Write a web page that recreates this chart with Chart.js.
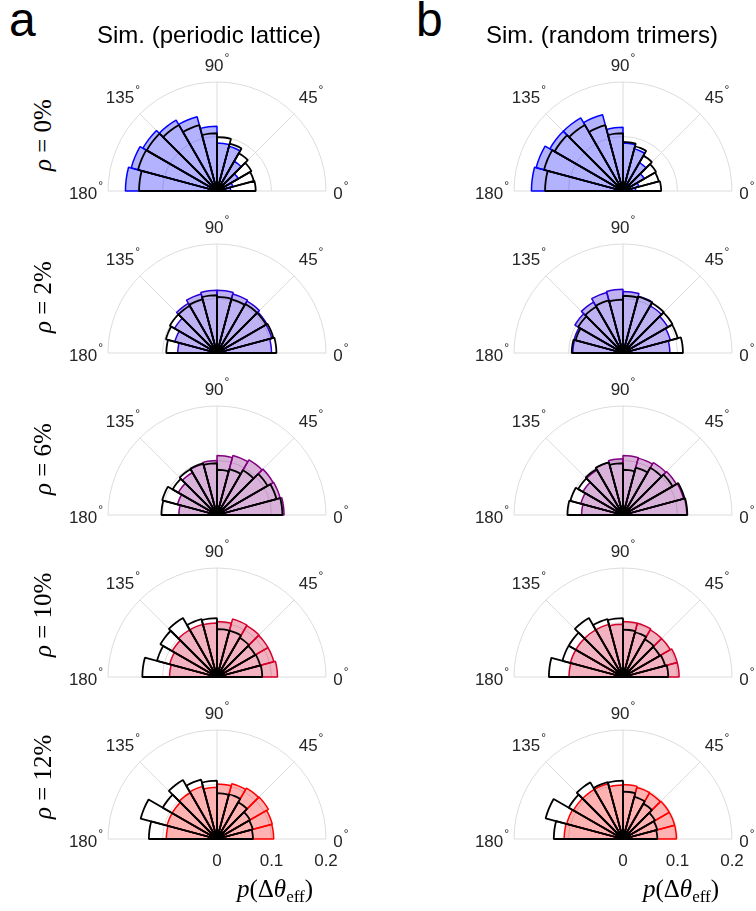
<!DOCTYPE html>
<html>
<head>
<meta charset="utf-8">
<script src="https://cdn.jsdelivr.net/npm/chart.js@4.4.1/dist/chart.umd.min.js"></script>
<style>
    body { margin: 0; background: #fff; }
    #page { position: relative; width: 756px; height: 911px; overflow: hidden; font-family: "Liberation Sans", Arial, sans-serif; color: #000; }
    #page canvas { position: absolute; }
    .txt { position: absolute; white-space: nowrap; line-height: 1; }
    .rho { position: absolute; white-space: nowrap; font-family: "Liberation Serif", serif; font-size: 25px; line-height: 26px; transform-origin: 0 0; transform: rotate(-90deg); }
    .xlab { position: absolute; white-space: nowrap; font-family: "Liberation Serif", serif; font-size: 25px; line-height: 1; transform: translateX(-50%); }
    .xlab sub { font-size: 17px; vertical-align: -5px; }
</style>
</head>
<body>
<div id="page"></div>
<script>
// 15 degree bins, 0 to 180 degrees
const thetaBins = ['0-15', '15-30', '30-45', '45-60', '60-75', '75-90',
                   '90-105', '105-120', '120-135', '135-150', '150-165', '165-180'];
const rhoLabels = ['0%', '2%', '6%', '10%', '12%'];
const radialTicks = [0, 0.1, 0.2];
const angleTicks = [0, 45, 90, 135, 180];

// a: periodic lattice, coloured histograms
const simLattice0  = [0.025, 0.030, 0.045, 0.063, 0.085, 0.088, 0.119, 0.141, 0.150, 0.157, 0.163, 0.168];
const simLattice2  = [0.100, 0.104, 0.106, 0.110, 0.112, 0.115, 0.115, 0.112, 0.105, 0.090, 0.080, 0.072];
const simLattice6  = [0.123, 0.120, 0.119, 0.117, 0.113, 0.109, 0.100, 0.097, 0.090, 0.082, 0.075, 0.070];
const simLattice10 = [0.111, 0.108, 0.108, 0.109, 0.110, 0.102, 0.099, 0.100, 0.100, 0.095, 0.090, 0.087];
const simLattice12 = [0.104, 0.105, 0.109, 0.108, 0.105, 0.101, 0.095, 0.100, 0.098, 0.095, 0.095, 0.093];
// a: black outline histograms
const refLattice0  = [0.071, 0.070, 0.073, 0.080, 0.090, 0.099, 0.106, 0.125, 0.140, 0.149, 0.150, 0.143];
const refLattice2  = [0.109, 0.107, 0.104, 0.104, 0.102, 0.103, 0.106, 0.102, 0.100, 0.100, 0.097, 0.093];
const refLattice6  = [0.120, 0.113, 0.107, 0.095, 0.087, 0.083, 0.095, 0.098, 0.097, 0.094, 0.104, 0.102];
const refLattice10 = [0.083, 0.082, 0.081, 0.083, 0.088, 0.088, 0.108, 0.110, 0.125, 0.120, 0.114, 0.137];
const refLattice12 = [0.066, 0.068, 0.070, 0.078, 0.085, 0.084, 0.107, 0.113, 0.125, 0.115, 0.145, 0.125];

// b: random trimers, coloured histograms
const simTrimers0  = [0.023, 0.030, 0.045, 0.060, 0.080, 0.088, 0.117, 0.145, 0.155, 0.155, 0.165, 0.168];
const simTrimers2  = [0.086, 0.090, 0.095, 0.100, 0.108, 0.113, 0.117, 0.115, 0.108, 0.102, 0.093, 0.092];
const simTrimers6  = [0.117, 0.115, 0.113, 0.111, 0.108, 0.109, 0.103, 0.100, 0.095, 0.085, 0.080, 0.076];
const simTrimers10 = [0.103, 0.103, 0.100, 0.100, 0.102, 0.102, 0.097, 0.100, 0.100, 0.100, 0.100, 0.099];
const simTrimers12 = [0.098, 0.098, 0.098, 0.097, 0.098, 0.100, 0.099, 0.105, 0.105, 0.105, 0.107, 0.108];
// b: black outline histograms
const refTrimers0  = [0.070, 0.068, 0.070, 0.075, 0.085, 0.090, 0.106, 0.125, 0.140, 0.145, 0.150, 0.143];
const refTrimers2  = [0.110, 0.104, 0.105, 0.106, 0.107, 0.105, 0.098, 0.100, 0.098, 0.095, 0.090, 0.094];
const refTrimers6  = [0.118, 0.117, 0.105, 0.100, 0.090, 0.083, 0.095, 0.100, 0.097, 0.095, 0.100, 0.102];
const refTrimers10 = [0.083, 0.080, 0.078, 0.080, 0.085, 0.087, 0.108, 0.110, 0.125, 0.115, 0.115, 0.136];
const refTrimers12 = [0.063, 0.065, 0.068, 0.075, 0.080, 0.087, 0.107, 0.108, 0.120, 0.115, 0.147, 0.127];

const latticeSim = [simLattice0, simLattice2, simLattice6, simLattice10, simLattice12];
const latticeRef = [refLattice0, refLattice2, refLattice6, refLattice10, refLattice12];
const trimersSim = [simTrimers0, simTrimers2, simTrimers6, simTrimers10, simTrimers12];
const trimersRef = [refTrimers0, refTrimers2, refTrimers6, refTrimers10, refTrimers12];

// colour per rho, blue -> red
const rowRGB = [[0, 0, 255], [42, 0, 213], [128, 0, 128], [213, 0, 43], [255, 0, 0]];

const page = document.getElementById('page');
const colX = [217, 623];
const rowY = [191, 353, 515, 677, 839];
const SIZE = 320, PAD = 51;
// gap between outer ring and angle label
const labelGap = { 0: 15, 45: 24, 90: 17, 135: 24, 180: 22 };

// half-circle grid and labels, drawn from the r scale
const polarGrid = {
    id: 'polarGrid',
    beforeDatasetsDraw(chart) {
        const r = chart.scales.r, ctx = chart.ctx;
        const x0 = r.xCenter, y0 = r.yCenter;
        const rMax = r.getDistanceFromCenterForValue(radialTicks[radialTicks.length - 1]);
        ctx.save();
        ctx.strokeStyle = '#dcdcdc';
        ctx.lineWidth = 1;
        radialTicks.slice(1).forEach(v => {
            ctx.beginPath();
            ctx.arc(x0, y0, r.getDistanceFromCenterForValue(v), Math.PI, 2 * Math.PI);
            ctx.stroke();
        });
        angleTicks.forEach(a => {
            const t = a * Math.PI / 180;
            ctx.beginPath();
            ctx.moveTo(x0, y0);
            ctx.lineTo(x0 + rMax * Math.cos(t), y0 - rMax * Math.sin(t));
            ctx.stroke();
        });
        ctx.restore();
    },
    afterDraw(chart, args, opts) {
        const r = chart.scales.r, ctx = chart.ctx;
        const x0 = r.xCenter, y0 = r.yCenter;
        const rMax = r.getDistanceFromCenterForValue(radialTicks[radialTicks.length - 1]);
        ctx.save();
        ctx.fillStyle = '#262626';
        ctx.textBaseline = 'middle';
        angleTicks.forEach(a => {
            const t = a * Math.PI / 180;
            const d = rMax + labelGap[a];
            const px = x0 + d * Math.cos(t);
            const py = y0 - d * Math.sin(t) + (a === 0 || a === 180 ? 3 : 1);
            ctx.font = '17px "Liberation Sans"';
            const w1 = ctx.measureText(String(a)).width;
            ctx.font = '12px "Liberation Sans"';
            const w2 = ctx.measureText('\u00b0').width;
            const sx = px - (w1 + w2 + 1) / 2;
            ctx.font = '17px "Liberation Sans"';
            ctx.textAlign = 'left';
            ctx.fillText(String(a), sx, py);
            ctx.font = '12px "Liberation Sans"';
            ctx.fillText('\u00b0', sx + w1 + 1, py - 7);
        });
        if (opts.showTicks) {
            ctx.font = '17px "Liberation Sans"';
            ctx.textAlign = 'center';
            radialTicks.forEach(v => {
                ctx.fillText(String(v), x0 + r.getDistanceFromCenterForValue(v), y0 + 22);
            });
        }
        ctx.restore();
    }
};

function makePanel(cx, cy, simData, refData, rgb, showTicks) {
    const cv = document.createElement('canvas');
    cv.width = SIZE;
    cv.height = SIZE;
    cv.style.left = (cx - SIZE / 2) + 'px';
    cv.style.top = (cy - SIZE / 2) + 'px';
    page.appendChild(cv);

    // bins are laid out clockwise from 180 deg, lower half left empty
    const empty = thetaBins.map(() => 0);
    const line = 'rgb(' + rgb.join(',') + ')';
    const fill = 'rgba(' + rgb.join(',') + ',0.3)';

    new Chart(cv, {
        type: 'polarArea',
        data: {
            labels: thetaBins.slice().reverse().concat(thetaBins.map(() => '')),
            datasets: [{
                data: refData.slice().reverse().concat(empty),
                backgroundColor: 'rgba(0,0,0,0)',
                borderColor: '#000',
                borderWidth: c => c.dataIndex < thetaBins.length ? 1.8 : 0,
            }, {
                data: simData.slice().reverse().concat(empty),
                backgroundColor: fill,
                borderColor: line,
                borderWidth: c => c.dataIndex < thetaBins.length ? 1.5 : 0,
            }]
        },
        options: {
            responsive: false,
            animation: false,
            devicePixelRatio: 1,
            layout: { padding: PAD },
            plugins: {
                legend: { display: false },
                tooltip: { enabled: false },
                polarGrid: { showTicks: showTicks }
            },
            scales: {
                r: {
                    min: 0,
                    max: 0.2,
                    startAngle: -90,
                    ticks: { display: false },
                    grid: { display: false },
                    angleLines: { display: false },
                    pointLabels: { display: false }
                }
            }
        },
        plugins: [polarGrid]
    });
}

function addText(html, cls, left, top, style) {
    const d = document.createElement('div');
    d.className = cls;
    d.innerHTML = html;
    d.style.left = left + 'px';
    d.style.top = top + 'px';
    if (style) Object.assign(d.style, style);
    page.appendChild(d);
    return d;
}

rowY.forEach((cy, i) => {
    const last = i === rowY.length - 1;
    makePanel(colX[0], cy, latticeSim[i], latticeRef[i], rowRGB[i], last);
    makePanel(colX[1], cy, trimersSim[i], trimersRef[i], rowRGB[i], last);
    addText('<i>\u03c1</i> = ' + rhoLabels[i], 'rho', 30, cy - 20);
});

// panel letters and titles
addText('a', 'txt', 9, -4, { fontSize: '48px' });
addText('b', 'txt', 416, -4, { fontSize: '48px' });
addText('Sim. (periodic lattice)', 'txt', 209, 23, { fontSize: '24px', transform: 'translateX(-50%)' });
addText('Sim. (random trimers)', 'txt', 602, 23, { fontSize: '24px', transform: 'translateX(-50%)' });

// radial axis labels
colX.forEach(cx => {
    addText('<i>p</i>(\u0394<i>\u03b8</i><sub>eff</sub>)', 'xlab', cx + 58, 876);
});
</script>
</body>
</html>
